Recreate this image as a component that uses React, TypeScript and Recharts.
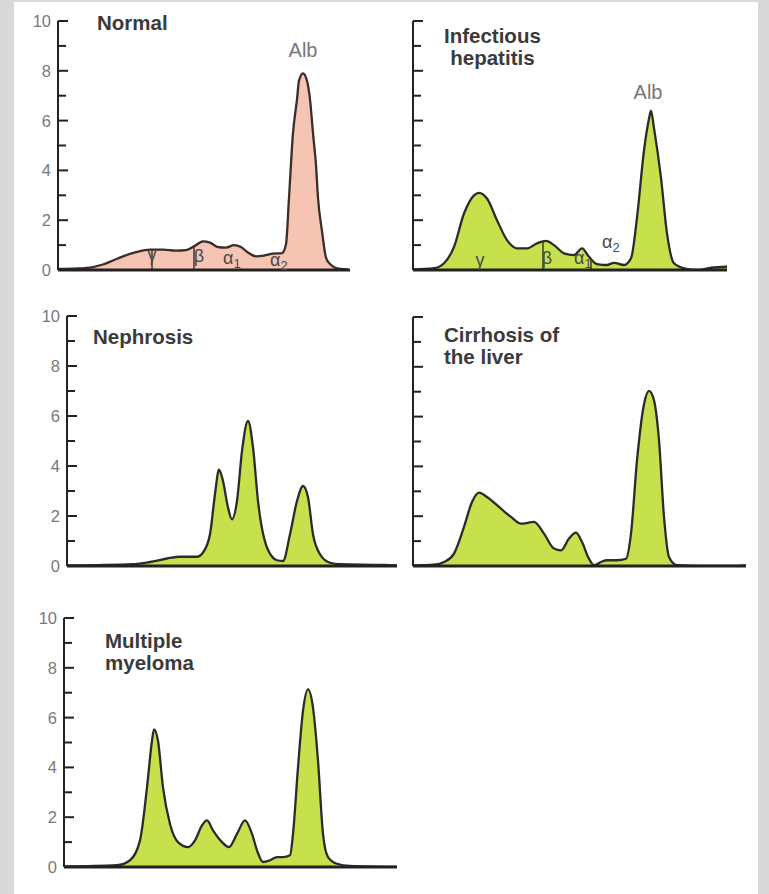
import { AreaChart, Area, XAxis, YAxis, ReferenceLine, ReferenceDot } from "recharts";

// protein fraction density along the strip (x = migration distance, y = relative amount)
const yTicks = [0, 1, 2, 3, 4, 5, 6, 7, 8, 9, 10];

const normalPos = [0, 20, 35, 45, 55, 65, 78, 92, 105, 118, 128, 136, 145, 152, 160, 168, 176, 183, 190, 198, 206, 215, 224, 228, 231, 235, 239, 241, 245, 249, 252, 255, 258, 260, 264, 268, 272, 282, 290];
const normalVal = [0.04, 0.06, 0.12, 0.22, 0.38, 0.55, 0.72, 0.82, 0.82, 0.78, 0.8, 0.95, 1.15, 1.1, 0.92, 0.9, 1.0, 0.92, 0.7, 0.55, 0.58, 0.66, 0.68, 1.03, 2.9, 5.5, 6.85, 7.6, 7.9, 7.6, 6.85, 5.5, 4.2, 2.9, 1.56, 0.5, 0.24, 0.04, 0.02];

const hepatitisPos = [0, 21, 31, 41, 51, 61, 66, 74, 84, 94, 104, 114, 124, 133, 141, 151, 161, 169, 176, 184, 194, 201, 211, 218, 224, 231, 236, 238, 241, 248, 254, 261, 271, 284, 298, 314];
const hepatitisVal = [0.02, 0.07, 0.27, 0.93, 2.27, 3.0, 3.1, 2.87, 2.0, 1.2, 0.87, 0.87, 1.07, 1.17, 1.0, 0.67, 0.6, 0.87, 0.53, 0.24, 0.2, 0.29, 0.2, 0.47, 2.1, 4.8, 6.07, 6.4, 5.7, 3.7, 1.47, 0.27, 0.07, 0.0, 0.09, 0.13];

const nephrosisPos = [0, 66, 83, 100, 113, 130, 136, 143, 148, 152, 156, 161, 165, 170, 175, 181, 186, 191, 200, 210, 216, 223, 230, 236, 241, 246, 253, 263, 273, 316, 330];
const nephrosisVal = [0.02, 0.07, 0.16, 0.3, 0.37, 0.37, 0.54, 1.27, 2.88, 3.85, 3.4, 2.34, 1.87, 2.6, 4.6, 5.8, 4.75, 2.6, 0.74, 0.23, 0.2, 1.27, 2.6, 3.2, 2.75, 1.27, 0.47, 0.13, 0.07, 0.04, 0.02];

const cirrhosisPos = [0, 21, 31, 41, 51, 59, 66, 74, 88, 98, 108, 121, 131, 141, 148, 156, 163, 169, 176, 181, 188, 194, 204, 213, 218, 224, 231, 236, 241, 246, 251, 256, 264, 288, 324, 333];
const cirrhosisVal = [0.02, 0.05, 0.16, 0.5, 1.57, 2.57, 2.95, 2.77, 2.3, 1.97, 1.7, 1.77, 1.3, 0.7, 0.63, 1.1, 1.34, 0.96, 0.29, 0.03, 0.16, 0.23, 0.23, 0.29, 1.3, 4.24, 6.5, 7.03, 6.65, 5.05, 1.97, 0.36, 0.03, 0, 0, 0.02];

const myelomaPos = [0, 53, 66, 76, 83, 88, 90, 94, 99, 106, 114, 124, 131, 138, 143, 149, 158, 165, 173, 181, 188, 193, 199, 206, 213, 219, 226, 229, 234, 239, 244, 249, 254, 259, 264, 273, 286, 333];
const myelomaVal = [0.02, 0.07, 0.27, 1.07, 3.2, 5.07, 5.53, 5.07, 3.2, 1.73, 1.0, 0.8, 1.07, 1.67, 1.87, 1.47, 1.0, 0.8, 1.33, 1.87, 1.33, 0.67, 0.2, 0.27, 0.4, 0.4, 0.47, 1.33, 4.0, 6.27, 7.13, 6.4, 4.27, 1.33, 0.4, 0.13, 0.04, 0.0];

// fraction boundaries and labels
const normalDividers = [
  { x: 94, top: 0.84 },
  { x: 136, top: 0.95 },
];
const normalLabels = [
  { x: 245, y: 8.55, text: "Alb", kind: "alb" },
  { x: 94, y: 0.35, text: "γ", kind: "greek" },
  { x: 141, y: 0.32, text: "β", kind: "greek" },
  { x: 165, y: 0.26, text: "α", sub: "1", kind: "alpha" },
  { x: 212, y: 0.16, text: "α", sub: "2", kind: "alpha" },
];
const hepatitisDividers = [
  { x: 130, top: 1.15 },
  { x: 178, top: 0.45 },
];
const hepatitisLabels = [
  { x: 235, y: 6.87, text: "Alb", kind: "alb" },
  { x: 67, y: 0.15, text: "γ", kind: "greek" },
  { x: 134, y: 0.26, text: "β", kind: "greek" },
  { x: 161, y: 0.26, text: "α", sub: "1", kind: "alpha" },
  { x: 189, y: 0.9, text: "α", sub: "2", kind: "alpha" },
];

const GREEN = "#c6e14c";
const PINK = "#f6c4b3";

const zip = (pos: number[], val: number[]) => pos.map((x, i) => ({ x, v: val[i] }));

const PANELS = [
  { key: "normal", title: ["Normal"], titleLeft: 97, titleTop: 12, align: "left", axisX: 58, endX: 350, y10: 21, y0: 270, labels: true, fill: PINK, stroke: "#3a2d2a", data: zip(normalPos, normalVal), dividers: normalDividers, notes: normalLabels },
  { key: "hepatitis", title: ["Infectious", "hepatitis"], titleLeft: 444, titleTop: 25, align: "center", axisX: 413, endX: 727, y10: 21, y0: 270, labels: false, fill: GREEN, stroke: "#2b2b2b", data: zip(hepatitisPos, hepatitisVal), dividers: hepatitisDividers, notes: hepatitisLabels },
  { key: "nephrosis", title: ["Nephrosis"], titleLeft: 93, titleTop: 326, align: "left", axisX: 67, endX: 397, y10: 316, y0: 566, labels: true, fill: GREEN, stroke: "#2b2b2b", data: zip(nephrosisPos, nephrosisVal), dividers: [], notes: [] },
  { key: "cirrhosis", title: ["Cirrhosis of", "the liver"], titleLeft: 444, titleTop: 324, align: "left", axisX: 413, endX: 746, y10: 317, y0: 566, labels: false, fill: GREEN, stroke: "#2b2b2b", data: zip(cirrhosisPos, cirrhosisVal), dividers: [], notes: [] },
  { key: "myeloma", title: ["Multiple", "myeloma"], titleLeft: 105, titleTop: 630, align: "left", axisX: 64, endX: 397, y10: 618, y0: 867, labels: true, fill: GREEN, stroke: "#2b2b2b", data: zip(myelomaPos, myelomaVal), dividers: [], notes: [] },
];

const FONT = "'Liberation Sans', Arial, sans-serif";
const Y_AXIS_W = 40;
const TOP_M = 10;
const BOTTOM_M = 14;
const X_AXIS_H = 2;

function AxisTick(props: any) {
  const { x, y, payload, showLabel } = props;
  const v = payload.value;
  const major = v % 2 === 0;
  return (
    <g>
      <line x1={x} x2={x + (major ? 10 : 8)} y1={y} y2={y} stroke="#222" strokeWidth={2} />
      {showLabel && major && (
        <text x={x - 7} y={y + 6} textAnchor="end" fontSize={16.5} fontFamily={FONT} fill="#787878">
          {v}
        </text>
      )}
    </g>
  );
}

function Note(props: any) {
  const { cx, cy, note } = props;
  if (note.kind === "alb") {
    return (
      <text x={cx} y={cy} textAnchor="middle" fontSize={20} fontFamily={FONT} fill="#777">
        {note.text}
      </text>
    );
  }
  if (note.kind === "alpha") {
    return (
      <text x={cx} y={cy} style={{ fontSize: 18 }} fontFamily={FONT} fill="#4a4a4a">
        {note.text}
        <tspan dy={4} style={{ fontSize: 13 }}>
          {note.sub}
        </tspan>
      </text>
    );
  }
  return (
    <text x={cx} y={cy} textAnchor="middle" style={{ fontSize: 18 }} fontFamily={FONT} fill="#4a4a4a">
      {note.text}
    </text>
  );
}

function Panel({ p }: { p: (typeof PANELS)[number] }) {
  const plotW = p.endX - p.axisX;
  const plotH = p.y0 - p.y10;
  const width = Y_AXIS_W + plotW + 4;
  const height = TOP_M + plotH + X_AXIS_H + BOTTOM_M;
  return (
    <div style={{ position: "absolute", left: p.axisX - Y_AXIS_W, top: p.y10 - TOP_M }}>
      <AreaChart width={width} height={height} data={p.data} margin={{ top: TOP_M, right: 4, bottom: BOTTOM_M, left: 0 }}>
        <XAxis
          type="number"
          dataKey="x"
          domain={[0, plotW]}
          allowDataOverflow
          tick={false}
          tickLine={false}
          height={X_AXIS_H}
          axisLine={{ stroke: "#222", strokeWidth: 3 }}
        />
        <YAxis
          type="number"
          domain={[0, 10]}
          allowDataOverflow
          ticks={yTicks}
          interval={0}
          width={Y_AXIS_W}
          tickSize={0}
          tickMargin={0}
          tickLine={false}
          axisLine={{ stroke: "#222", strokeWidth: 2 }}
          tick={(t: any) => <AxisTick {...t} showLabel={p.labels} />}
        />
        <Area
          type="monotone"
          dataKey="v"
          baseValue={0}
          stroke={p.stroke}
          strokeWidth={2.3}
          fill={p.fill}
          fillOpacity={1}
          dot={false}
          activeDot={false}
          isAnimationActive={false}
        />
        {p.dividers.map((d, i) => (
          <ReferenceLine
            key={"d" + i}
            segment={[
              { x: d.x, y: 0 },
              { x: d.x, y: d.top },
            ]}
            stroke="#3a2d2a"
            strokeWidth={1.4}
            ifOverflow="visible"
          />
        ))}
        {p.notes.map((n, i) => (
          <ReferenceDot
            key={"n" + i}
            x={n.x}
            y={n.y}
            r={0}
            ifOverflow="visible"
            shape={(s: any) => <Note {...s} note={n} />}
          />
        ))}
      </AreaChart>
    </div>
  );
}

export default function App() {
  return (
    <div style={{ position: "relative", width: 769, height: 894, background: "#d9d9d9", overflow: "hidden" }}>
      <style>{"body{margin:0}"}</style>
      <div style={{ position: "absolute", left: 14, top: 2, width: 744, height: 892, background: "#fff" }} />
      {PANELS.map((p) => (
        <Panel key={p.key} p={p} />
      ))}
      {PANELS.map((p) => (
        <div
          key={"t" + p.key}
          style={{
            position: "absolute",
            left: p.titleLeft,
            top: p.titleTop,
            fontFamily: FONT,
            fontWeight: 700,
            fontSize: 20.5,
            lineHeight: "22px",
            color: "#3a3a3a",
            textAlign: p.align as any,
            whiteSpace: "nowrap",
          }}
        >
          {p.title.map((line) => (
            <div key={line}>{line}</div>
          ))}
        </div>
      ))}
    </div>
  );
}
